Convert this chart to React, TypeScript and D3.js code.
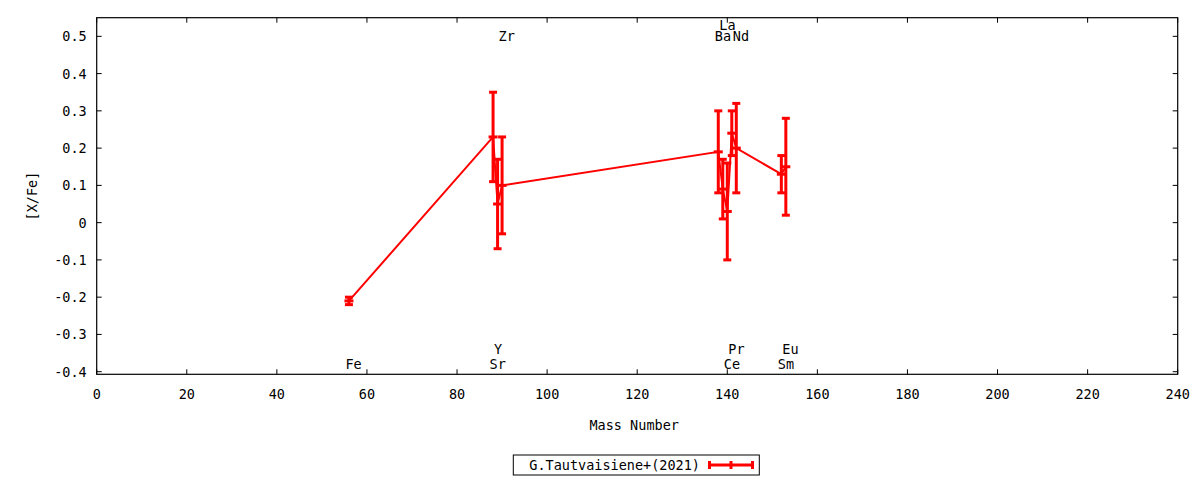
import { useEffect } from "react";
import * as d3 from "d3";

// [X/Fe] abundances vs mass number
const elements = ["Fe", "Sr", "Y", "Zr", "Ba", "La", "Ce", "Pr", "Nd", "Sm", "Eu"];
const massNumbers = [56, 88, 89, 90, 138, 139, 140, 141, 142, 152, 153];
const xFe = [-0.21, 0.23, 0.05, 0.1, 0.19, 0.09, 0.03, 0.24, 0.2, 0.13, 0.15];
const xFeErr = [0.01, 0.12, 0.12, 0.13, 0.11, 0.08, 0.13, 0.06, 0.12, 0.05, 0.13];
const labelY = [-0.38, -0.38, -0.34, 0.5, 0.5, 0.53, -0.38, -0.34, 0.5, -0.38, -0.34];

const xTicks = [0, 20, 40, 60, 80, 100, 120, 140, 160, 180, 200, 220, 240];
const yTicks = [-0.4, -0.3, -0.2, -0.1, 0, 0.1, 0.2, 0.3, 0.4, 0.5];
const seriesName = "G.Tautvaisiene+(2021)";

const W = 1200;
const H = 480;
const margin = { top: 17.7, right: 22.3, bottom: 105.7, left: 96.7 };
const RED = "#ff0000";
const FONT = "'DejaVu Sans Mono', monospace";

type Pt = { el: string; m: number; v: number; e: number; ly: number };

export default function App() {
  useEffect(() => {
    document.body.style.margin = "0";
  }, []);

  const x = d3.scaleLinear().domain([0, 240]).range([margin.left, W - margin.right]);
  const y = d3.scaleLinear().domain([-0.407, 0.55]).range([H - margin.bottom, margin.top]);

  const pts: Pt[] = elements.map((el, i) => ({
    el,
    m: massNumbers[i],
    v: xFe[i],
    e: xFeErr[i],
    ly: labelY[i],
  }));

  const line = d3
    .line<Pt>()
    .x((d) => x(d.m))
    .y((d) => y(d.v));

  const x0 = x.range()[0];
  const x1 = x.range()[1];
  const yTop = y.range()[1];
  const yBot = y.range()[0];
  const tick = 5;
  const cap = 4;
  const midX = (x0 + x1) / 2;
  const midY = (yTop + yBot) / 2;
  const fmt = (d: number) => (d === 0 ? "0" : d.toFixed(1));

  // legend
  const lg = { x: 513.3, y: 455, w: 246, h: 20 };
  const sx0 = 709.5;
  const sx1 = 752.5;
  const sy = lg.y + lg.h / 2;

  return (
    <svg
      width={W}
      height={H}
      style={{ display: "block", background: "#fff" }}
      fontFamily={FONT}
      fontSize={13.5}
    >
      {/* ticks */}
      <g stroke="#000" strokeWidth={1}>
        {xTicks.map((t) => (
          <g key={"xt" + t}>
            <line x1={x(t)} x2={x(t)} y1={yBot} y2={yBot - tick} />
            <line x1={x(t)} x2={x(t)} y1={yTop} y2={yTop + tick} />
          </g>
        ))}
        {yTicks.map((t) => (
          <g key={"yt" + t}>
            <line x1={x0} x2={x0 + tick} y1={y(t)} y2={y(t)} />
            <line x1={x1} x2={x1 - tick} y1={y(t)} y2={y(t)} />
          </g>
        ))}
      </g>
      {xTicks.map((t) => (
        <text key={"xl" + t} x={x(t)} y={yBot + 20} textAnchor="middle" dominantBaseline="central">
          {t}
        </text>
      ))}
      {yTicks.map((t) => (
        <text key={"yl" + t} x={x0 - 10} y={y(t)} textAnchor="end" dominantBaseline="central">
          {fmt(t)}
        </text>
      ))}

      {/* axis titles */}
      <text x={midX - 3} y={425} textAnchor="middle" dominantBaseline="central">
        Mass Number
      </text>
      <text
        transform={`translate(32,${midY}) rotate(-90)`}
        textAnchor="middle"
        dominantBaseline="central"
      >
        [X/Fe]
      </text>

      {/* element labels */}
      {pts.map((d) => (
        <text key={"el" + d.el} x={x(d.m) - 3.5} y={y(d.ly)} dominantBaseline="central">
          {d.el}
        </text>
      ))}

      {/* series */}
      <path d={line(pts) ?? ""} fill="none" stroke={RED} strokeWidth={2} />
      <g stroke={RED} strokeWidth={3}>
        {pts.map((d) => {
          const cx = x(d.m);
          const hi = y(d.v + d.e);
          const lo = y(d.v - d.e);
          const cy = y(d.v);
          return (
            <g key={"eb" + d.el}>
              <line x1={cx} x2={cx} y1={hi} y2={lo} />
              <line x1={cx - cap} x2={cx + cap} y1={hi} y2={hi} />
              <line x1={cx - cap} x2={cx + cap} y1={lo} y2={lo} />
              <line x1={cx - cap - 0.5} x2={cx + cap + 0.5} y1={cy} y2={cy} />
            </g>
          );
        })}
      </g>

      {/* frame */}
      <rect
        x={x0}
        y={yTop}
        width={x1 - x0}
        height={yBot - yTop}
        fill="none"
        stroke="#000"
        strokeWidth={1.2}
      />

      {/* legend */}
      <rect x={lg.x} y={lg.y} width={lg.w} height={lg.h} fill="none" stroke="#000" strokeWidth={1} />
      <text x={700} y={sy} textAnchor="end" dominantBaseline="central">
        {seriesName}
      </text>
      <g stroke={RED} strokeWidth={3}>
        <line x1={sx0} x2={sx1} y1={sy} y2={sy} />
        <line x1={sx0} x2={sx0} y1={sy - cap} y2={sy + cap} />
        <line x1={sx1} x2={sx1} y1={sy - cap} y2={sy + cap} />
        <line x1={(sx0 + sx1) / 2} x2={(sx0 + sx1) / 2} y1={sy - cap} y2={sy + cap} />
      </g>
    </svg>
  );
}
